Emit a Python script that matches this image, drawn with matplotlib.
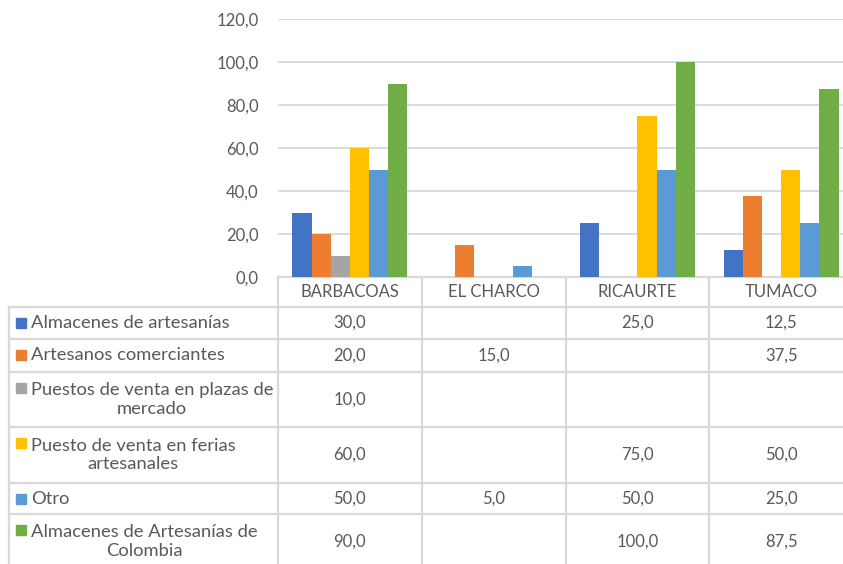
import numpy as np
import matplotlib
matplotlib.use("Agg")
import matplotlib.pyplot as plt
from matplotlib.transforms import blended_transform_factory
from matplotlib.patches import Rectangle

plt.rcParams['font.family'] = ['Lato', 'DejaVu Sans']

categories = ["BARBACOAS", "EL CHARCO", "RICAURTE", "TUMACO"]
series_names = ["Almacenes de artesanías", "Artesanos comerciantes",
                "Puestos de venta en plazas de\nmercado",
                "Puesto de venta en ferias\nartesanales", "Otro",
                "Almacenes de Artesanías de\nColombia"]
almacenes = [30.0, None, 25.0, 12.5]
artesanos = [20.0, 15.0, None, 37.5]
plazas = [10.0, None, None, None]
ferias = [60.0, None, 75.0, 50.0]
otro = [50.0, 5.0, 50.0, 25.0]
colombia = [90.0, None, 100.0, 87.5]
series = [almacenes, artesanos, plazas, ferias, otro, colombia]
colors = ["#4472C4", "#ED7D31", "#A5A5A5", "#FFC000", "#5B9BD5", "#70AD47"]
yticks = [0, 20, 40, 60, 80, 100, 120]

txt = "#595959"
grid = "#D9D9D9"
W, H = 843, 564

fig = plt.figure(figsize=(W / 100, H / 100), dpi=100)

# overlay in pixel coordinates for the data table
ov = fig.add_axes([0, 0, 1, 1])
ov.set_xlim(0, W)
ov.set_ylim(H, 0)
ov.axis('off')

# chart area
ax = fig.add_axes([278 / W, (H - 277) / H, (853 - 278) / W, (277 - 19) / H])
ax.patch.set_alpha(0)
n = len(series)
bw = 0.8 / n
x = np.arange(len(categories))
for i, (vals, c) in enumerate(zip(series, colors)):
    for xi, v in zip(x, vals):
        if v is None:
            continue
        ax.bar(xi - 0.4 + bw * (i + 0.5), v, width=bw, color=c, zorder=3)
ax.set_xlim(-0.5, len(categories) - 0.5)
ax.set_ylim(0, 120)
ax.set_yticks(yticks)
ax.set_yticklabels([f"{t:.1f}".replace(".", ",") for t in yticks],
                   color=txt, fontsize=12)
ax.tick_params(axis='y', length=0, pad=14)
ax.set_xticks([])
ax.grid(axis='y', color=grid, lw=1.3, zorder=0)
for s in ax.spines.values():
    s.set_visible(False)

# table
tr = blended_transform_factory(ax.transData, ov.transData)
rows = [307, 339, 372, 427, 483, 514, 569]
top = 277
left = 9
lc = dict(color=grid, lw=1.6, clip_on=False)

# horizontal lines
ov.plot([278, 853], [top, top], **lc)
for r in rows:
    ov.plot([left, 853], [r, r], **lc)
# vertical lines
ov.plot([left, left], [rows[0], rows[-1]], **lc)
for k in range(len(categories) + 1):
    ax_x = k - 0.5
    ov.plot([ax_x, ax_x], [top, rows[-1]], transform=tr, **lc)

# header
for k, cat in enumerate(categories):
    ov.text(k, (top + rows[0]) / 2, cat, transform=tr, ha='center',
            va='center', color=txt, fontsize=12)

# rows
for i, (name, vals, c) in enumerate(zip(series_names, series, colors)):
    y0, y1 = rows[i], rows[i + 1]
    yc = (y0 + y1) / 2
    ov.add_patch(Rectangle((16, y0 + 11), 9.5, 9.5, color=c))
    ov.text(31, yc, name, ha='left', va='center', multialignment='center',
            color=txt, fontsize=13.2, linespacing=1.2)
    for k, v in enumerate(vals):
        if v is None:
            continue
        ov.text(k, yc, f"{v:.1f}".replace(".", ","), transform=tr,
                ha='center', va='center', color=txt, fontsize=12)

fig.savefig("out.png", dpi=100)
